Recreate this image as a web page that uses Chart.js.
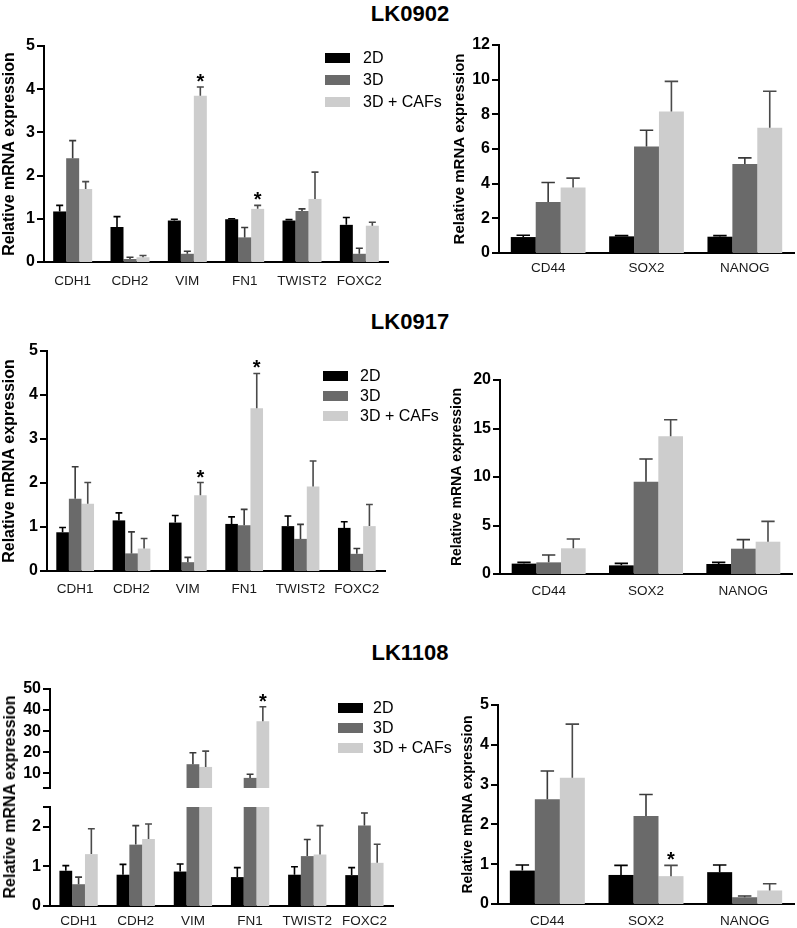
<!DOCTYPE html>
<html lang="en">
<head>
<meta charset="UTF-8">
<title>Relative mRNA expression - LK0902, LK0917, LK1108</title>
<script src="https://cdn.jsdelivr.net/npm/chart.js@4.4.1/dist/chart.umd.min.js"></script>
<style>
  body { margin: 0; background: #fff; font-family: Arial, "Liberation Sans", sans-serif; }
  #page { position: relative; width: 797px; height: 928px; overflow: hidden; }
  #page canvas { position: absolute; }
  .title { position: absolute; font-weight: bold; font-size: 22px; transform: translate(-50%, -50%); white-space: nowrap; }
  .sw { position: absolute; width: 25px; height: 10px; }
  .lt { position: absolute; font-size: 16px; white-space: nowrap; transform: translateY(-50%); }
  .ylab { position: absolute; font-weight: bold; font-size: 16px; white-space: nowrap; transform: translate(-50%, -50%) rotate(-90deg); }
</style>
</head>
<body>
<div id="page"></div>
<script>
// ---- data ----
const series = ['2D', '3D', '3D + CAFs'];
const emtGenes = ['CDH1', 'CDH2', 'VIM', 'FN1', 'TWIST2', 'FOXC2'];
const stemGenes = ['CD44', 'SOX2', 'NANOG'];

// LK0902
const lk0902EmtMeans = [
  [1.17, 0.81, 0.96, 0.99, 0.96, 0.86],
  [2.40, 0.07, 0.19, 0.57, 1.18, 0.19],
  [1.69, 0.11, 3.85, 1.23, 1.46, 0.84]
];
const lk0902EmtErrs = [
  [0.14, 0.24, 0.03, 0.01, 0.02, 0.17],
  [0.41, 0.04, 0.06, 0.23, 0.05, 0.13],
  [0.17, 0.04, 0.20, 0.08, 0.62, 0.08]
];
const lk0902EmtStars = [[2, 2], [3, 2]]; // [gene index, series index]
const lk0902EmtTicks = [0, 1, 2, 3, 4, 5];

const lk0902StemMeans = [
  [0.92, 0.96, 0.94],
  [2.94, 6.14, 5.14],
  [3.78, 8.16, 7.22]
];
const lk0902StemErrs = [
  [0.10, 0.04, 0.06],
  [1.13, 0.94, 0.35],
  [0.54, 1.74, 2.11]
];
const lk0902StemTicks = [0, 2, 4, 6, 8, 10, 12];

// LK0917
const lk0917EmtMeans = [
  [0.88, 1.15, 1.10, 1.07, 1.02, 0.98],
  [1.64, 0.40, 0.20, 1.04, 0.73, 0.39],
  [1.53, 0.51, 1.72, 3.70, 1.92, 1.02]
];
const lk0917EmtErrs = [
  [0.11, 0.17, 0.16, 0.16, 0.23, 0.14],
  [0.73, 0.49, 0.11, 0.36, 0.33, 0.12],
  [0.48, 0.23, 0.29, 0.79, 0.58, 0.49]
];
const lk0917EmtStars = [[2, 2], [3, 2]];
const lk0917EmtTicks = [0, 1, 2, 3, 4, 5];

const lk0917StemMeans = [
  [1.07, 0.89, 1.03],
  [1.20, 9.52, 2.61],
  [2.65, 14.2, 3.33]
];
const lk0917StemErrs = [
  [0.13, 0.21, 0.17],
  [0.76, 2.34, 0.93],
  [0.96, 1.70, 2.10]
];
const lk0917StemTicks = [0, 5, 10, 15, 20];

// LK1108 (left panel has a broken y axis)
const lk1108EmtMeans = [
  [0.89, 0.79, 0.87, 0.73, 0.79, 0.78],
  [0.55, 1.55, 14.3, 7.8, 1.26, 2.03],
  [1.31, 1.69, 13.0, 34.7, 1.30, 1.09]
];
const lk1108EmtErrs = [
  [0.13, 0.26, 0.19, 0.24, 0.20, 0.19],
  [0.18, 0.48, 5.4, 1.7, 0.42, 0.32],
  [0.64, 0.38, 7.5, 6.9, 0.73, 0.47]
];
const lk1108EmtStars = [[3, 2]];
const lk1108EmtTicksUpper = [3, 10, 20, 30, 40, 50];
const lk1108EmtTicksLower = [0, 1, 2, 2.5];
const lk1108BreakTicks = [3, 2.5];

const lk1108StemMeans = [
  [0.84, 0.73, 0.80],
  [2.63, 2.21, 0.17],
  [3.17, 0.70, 0.34]
];
const lk1108StemErrs = [
  [0.14, 0.24, 0.18],
  [0.71, 0.54, 0.03],
  [1.35, 0.27, 0.17]
];
const lk1108StemStars = [[1, 2]];
const lk1108StemTicks = [0, 1, 2, 3, 4, 5];

// ---- styling ----
const colors = ['#000000', '#6a6a6a', '#cdcdcd'];
const errColors = ['#000000', '#3a3a3a', '#4a4a4a'];
const FONT = 'Arial, "Liberation Sans", sans-serif';
const PAD = 22; // room above/below the plot area for tick labels
Chart.defaults.font.family = FONT;

// error bars (upper only), significance stars and outward y tick marks
Chart.register({
  id: 'errorBars',
  afterDatasetsDraw(chart) {
    const ctx = chart.ctx, y = chart.scales.y;
    ctx.save();
    chart.data.datasets.forEach((ds, di) => {
      chart.getDatasetMeta(di).data.forEach((bar, i) => {
        const v = ds.data[i];
        if (v <= y.min || v > y.max) return;
        const top = y.getPixelForValue(v + ds.errors[i]);
        const half = bar.width * 0.27;
        ctx.strokeStyle = ds.errColor;
        ctx.lineWidth = 1.6;
        ctx.beginPath();
        ctx.moveTo(bar.x, bar.y);
        ctx.lineTo(bar.x, top);
        ctx.moveTo(bar.x - half, top);
        ctx.lineTo(bar.x + half, top);
        ctx.stroke();
        if (ds.stars.includes(i)) {
          ctx.fillStyle = '#000';
          ctx.font = 'bold 20px ' + FONT;
          ctx.textAlign = 'center';
          ctx.textBaseline = 'alphabetic';
          ctx.fillText('*', bar.x, top + 1);
        }
      });
    });
    ctx.restore();
  },
  afterDraw(chart) {
    const ctx = chart.ctx, y = chart.scales.y;
    const x0 = chart.chartArea.left;
    ctx.save();
    ctx.fillStyle = '#000';
    y.ticks.forEach(t => {
      const py = Math.round(y.getPixelForValue(t.value));
      ctx.fillRect(x0 - 7, py - 1, 7, 2);
    });
    ctx.restore();
  }
});

const page = document.getElementById('page');

function makePanel(cfg) {
  const canvas = document.createElement('canvas');
  const top = cfg.yTop - PAD;
  const bottom = cfg.yBot + (cfg.showX ? 30 : PAD);
  canvas.width = cfg.right + 10 - cfg.left;
  canvas.height = bottom - top;
  canvas.style.left = cfg.left + 'px';
  canvas.style.top = top + 'px';
  page.appendChild(canvas);
  const stars = cfg.stars || [];
  const blank = cfg.blank || [];
  new Chart(canvas, {
    type: 'bar',
    data: {
      labels: cfg.labels,
      datasets: series.map((name, di) => ({
        label: name,
        data: cfg.means[di],
        errors: cfg.errs[di],
        errColor: errColors[di],
        stars: stars.filter(s => s[1] === di).map(s => s[0]),
        backgroundColor: colors[di],
        borderWidth: 0,
        barPercentage: 1,
        categoryPercentage: cfg.catPct
      }))
    },
    options: {
      responsive: false,
      animation: false,
      devicePixelRatio: 1,
      layout: { padding: { top: PAD, right: 10, left: 0, bottom: cfg.showX ? 0 : PAD } },
      plugins: { legend: { display: false }, tooltip: { enabled: false } },
      scales: {
        x: {
          display: cfg.showX,
          grid: { display: false, drawTicks: false },
          border: { display: true, color: '#000', width: 2 },
          ticks: { color: '#1a1a1a', padding: cfg.xPad || 0, font: { size: 13.5 }, autoSkip: false, maxRotation: 0 },
          afterFit: s => { if (cfg.showX) s.height = 30; }
        },
        y: {
          min: cfg.ticks[0],
          max: cfg.ticks[cfg.ticks.length - 1],
          afterBuildTicks: s => { s.ticks = cfg.ticks.map(v => ({ value: v })); },
          afterFit: s => { s.width = cfg.axisX - cfg.left; },
          grid: { display: false, drawTicks: false },
          border: { display: true, color: '#000', width: 2 },
          ticks: {
            color: '#000', padding: 9, autoSkip: false,
            font: { size: 16, weight: 'bold' },
            callback: v => blank.includes(v) ? '' : v
          },
          title: {
            display: !!cfg.yTitleSize,
            text: 'Relative mRNA expression',
            color: '#000', padding: 0,
            font: { size: cfg.yTitleSize || 16, weight: 'bold' }
          }
        }
      }
    }
  });
}

function addTitle(text, x, y) {
  const d = document.createElement('div');
  d.className = 'title';
  d.textContent = text;
  d.style.left = x + 'px';
  d.style.top = y + 'px';
  page.appendChild(d);
}

function addLegend(x, y0, step, textX) {
  series.forEach((name, i) => {
    const cy = y0 + i * step;
    const sw = document.createElement('div');
    sw.className = 'sw';
    sw.style.background = colors[i];
    sw.style.left = x + 'px';
    sw.style.top = (cy - 5) + 'px';
    page.appendChild(sw);
    const t = document.createElement('div');
    t.className = 'lt';
    t.textContent = name;
    t.style.left = textX + 'px';
    t.style.top = cy + 'px';
    page.appendChild(t);
  });
}

// ---- LK0902 ----
addTitle('LK0902', 410, 14);
makePanel({ labels: emtGenes, means: lk0902EmtMeans, errs: lk0902EmtErrs, stars: lk0902EmtStars,
  ticks: lk0902EmtTicks, left: 0, axisX: 44, yTop: 46, yBot: 262, right: 388, showX: true, xPad: 11,
  catPct: 0.68, yTitleSize: 16 });
makePanel({ labels: stemGenes, means: lk0902StemMeans, errs: lk0902StemErrs,
  ticks: lk0902StemTicks, left: 451, axisX: 499, yTop: 45, yBot: 253, right: 794, showX: true, xPad: 7,
  catPct: 0.76, yTitleSize: 15 });
addLegend(325, 58, 22, 363);

// ---- LK0917 ----
addTitle('LK0917', 410, 322);
makePanel({ labels: emtGenes, means: lk0917EmtMeans, errs: lk0917EmtErrs, stars: lk0917EmtStars,
  ticks: lk0917EmtTicks, left: 0, axisX: 47, yTop: 351, yBot: 571, right: 385, showX: true, xPad: 10,
  catPct: 0.67, yTitleSize: 16 });
makePanel({ labels: stemGenes, means: lk0917StemMeans, errs: lk0917StemErrs,
  ticks: lk0917StemTicks, left: 449, axisX: 500, yTop: 380, yBot: 574, right: 792, showX: true, xPad: 9,
  catPct: 0.76, yTitleSize: 14 });
addLegend(323, 376, 20, 360);

// ---- LK1108 ----
addTitle('LK1108', 410, 653);
makePanel({ labels: emtGenes, means: lk1108EmtMeans, errs: lk1108EmtErrs, stars: lk1108EmtStars,
  ticks: lk1108EmtTicksUpper, blank: lk1108BreakTicks, left: 0, axisX: 50, yTop: 689, yBot: 788,
  right: 393, showX: false, catPct: 0.67 });
makePanel({ labels: emtGenes, means: lk1108EmtMeans, errs: lk1108EmtErrs,
  ticks: lk1108EmtTicksLower, blank: lk1108BreakTicks, left: 0, axisX: 50, yTop: 807, yBot: 906,
  right: 393, showX: true, xPad: 7, catPct: 0.67 });
const yl = document.createElement('div');
yl.className = 'ylab';
yl.textContent = 'Relative mRNA expression';
yl.style.left = '10px';
yl.style.top = '797px';
page.appendChild(yl);
makePanel({ labels: stemGenes, means: lk1108StemMeans, errs: lk1108StemErrs, stars: lk1108StemStars,
  ticks: lk1108StemTicks, left: 460, axisX: 498, yTop: 705, yBot: 904, right: 794, showX: true, xPad: 9,
  catPct: 0.76, yTitleSize: 14 });
addLegend(338, 708, 20, 373);
</script>
</body>
</html>
